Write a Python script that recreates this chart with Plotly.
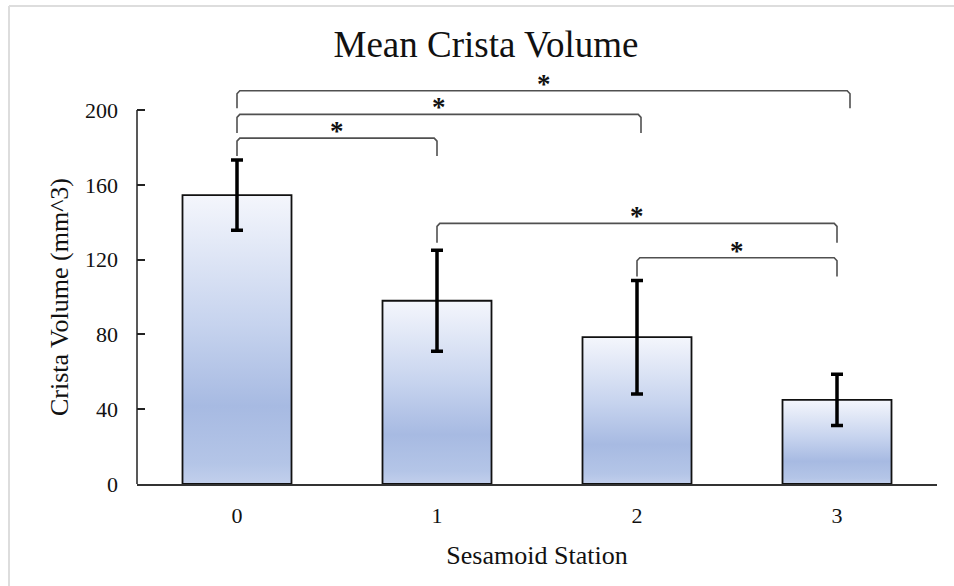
import plotly.graph_objects as go

# ---- data ----
categories = ["0", "1", "2", "3"]
means = [154.5, 98.0, 78.5, 45.0]
errors = [18.8, 27.0, 30.3, 13.7]
y_ticks = [0, 40, 80, 120, 160, 200]

# significance brackets: (left category, right end, top level, bottom level)
bracket_left = [0, 0, 0, 1, 2]
bracket_right = [1.0, 2.02, 3.065, 3.0, 3.0]
bracket_top = [185.0, 197.7, 210.3, 139.4, 121.0]
bracket_bottom = [175.4, 187.7, 201.0, 129.0, 111.0]
bracket_label = ["*", "*", "*", "*", "*"]

# ---- style ----
FONT = "Liberation Serif, Times New Roman, serif"
BAR_W = 0.545
Y_MAX = 215
gradient = [
    [0.0, "#c2cfec"],
    [0.07, "#b4c5e7"],
    [0.27, "#a7bae2"],
    [0.55, "#c6d3ee"],
    [1.0, "#f4f6fc"],
]

fig = go.Figure()

# gradient bars with outline
for i, v in enumerate(means):
    xs = [i - BAR_W / 2, i - BAR_W / 2, i + BAR_W / 2, i + BAR_W / 2, i - BAR_W / 2]
    ys = [0, v, v, 0, 0]
    fig.add_trace(go.Scatter(
        x=xs, y=ys, mode="lines", fill="toself",
        line=dict(width=1.8, color="#111111"),
        fillgradient=dict(type="vertical", colorscale=gradient, start=0, stop=v),
        hoverinfo="skip", showlegend=False,
    ))

# error bars
fig.add_trace(go.Scatter(
    x=list(range(len(categories))), y=means, mode="markers",
    marker=dict(size=1, color="rgba(0,0,0,0)"),
    error_y=dict(type="data", array=errors, color="#000000", thickness=3.5, width=6),
    showlegend=False,
))

# significance brackets
dx, dy = 0.014, 1.6
for l, r, t, b, lab in zip(bracket_left, bracket_right, bracket_top, bracket_bottom, bracket_label):
    fig.add_trace(go.Scatter(
        x=[l, l, l + dx, r - dx, r, r],
        y=[b, t - dy, t, t, t - dy, b],
        mode="lines", line=dict(color="#505050", width=1.6),
        hoverinfo="skip", showlegend=False,
    ))
    fig.add_annotation(
        x=(l + r) / 2, y=t, text="<b>" + lab + "</b>", showarrow=False,
        yanchor="bottom", yshift=-10,
        font=dict(family=FONT, size=27, color="#111111"),
    )

# y-axis line only up to 200
fig.add_shape(type="line", xref="paper", yref="paper",
              x0=0, x1=0, y0=0, y1=200 / Y_MAX,
              line=dict(color="#222222", width=1.5))

# y-axis title centred on the 0-200 axis span
fig.add_annotation(
    xref="paper", x=0, xshift=-78, xanchor="center",
    yref="y", y=(y_ticks[0] + y_ticks[-1]) / 2, yanchor="middle",
    text="Crista Volume (mm^3)", textangle=-90, showarrow=False,
    font=dict(family=FONT, size=26, color="#111111"),
)

# light frame lines (top and left)
W, H = 954, 586
ML, MR, MT, MB = 137, 17, 82, 102
pw, ph = W - ML - MR, H - MT - MB
fig.add_shape(type="line", xref="paper", yref="paper",
              x0=(9 - ML) / pw, x1=(W - ML) / pw,
              y0=(H - MB - 6) / ph, y1=(H - MB - 6) / ph,
              line=dict(color="#dddddd", width=2))
fig.add_shape(type="line", xref="paper", yref="paper",
              x0=(9 - ML) / pw, x1=(9 - ML) / pw,
              y0=-MB / ph, y1=(H - MB - 6) / ph,
              line=dict(color="#dddddd", width=2))

fig.update_layout(
    width=W, height=H,
    margin=dict(l=ML, r=MR, t=MT, b=MB, autoexpand=False),
    paper_bgcolor="white", plot_bgcolor="white",
    font=dict(family=FONT, color="#111111"),
    title=dict(text="Mean Crista Volume", x=486 / W, xref="container", xanchor="center",
               y=1 - 44 / H, yref="container", yanchor="middle",
               font=dict(family=FONT, size=37, color="#111111")),
    xaxis=dict(
        range=[-0.5, 3.5], tickvals=list(range(len(categories))), ticktext=categories,
        showline=True, linecolor="#333333", linewidth=1.5, ticks="",
        showgrid=False, zeroline=False, tickfont=dict(size=22), ticklabelstandoff=11,
        title=dict(text="Sesamoid Station", font=dict(size=26), standoff=19),
    ),
    yaxis=dict(
        range=[0, Y_MAX], tickvals=y_ticks, showline=False, ticks="inside",
        ticklen=8, tickwidth=1.5, tickcolor="#222222",
        showgrid=False, zeroline=False, tickfont=dict(size=22), ticklabelstandoff=18,
    ),
)

fig.write_html("out.html", config={"displayModeBar": False},
               post_script="document.body.style.margin='0';")
